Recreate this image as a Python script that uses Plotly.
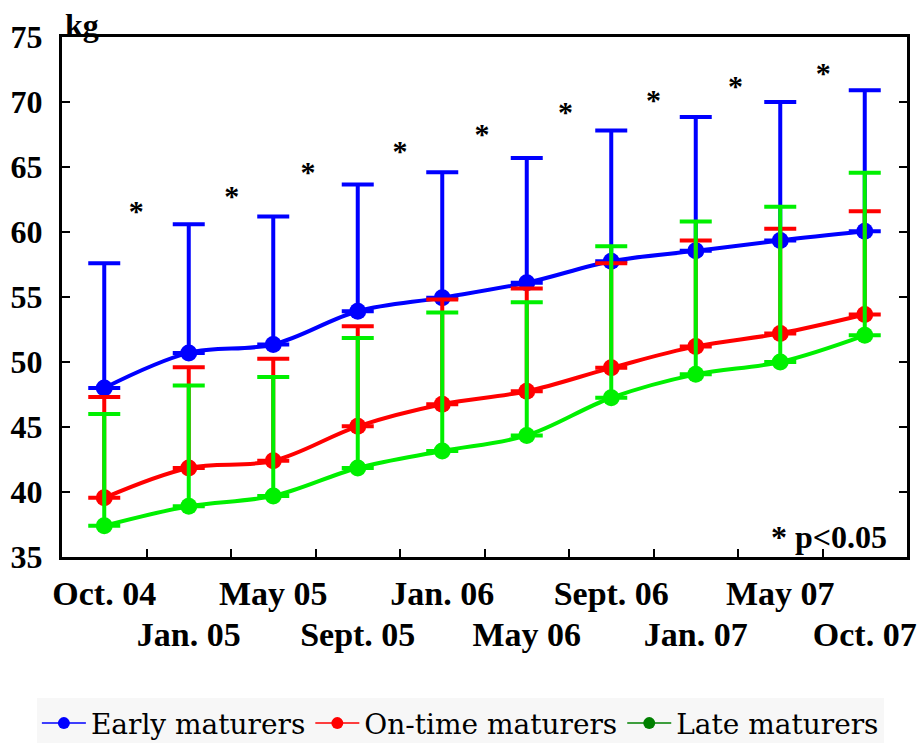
import numpy as np
import plotly.graph_objects as go

# Measurement dates (one per survey wave)
dates = ["Oct. 04", "Jan. 05", "May 05", "Sept. 05", "Jan. 06",
         "May 06", "Sept. 06", "Jan. 07", "May 07", "Oct. 07"]

# Mean body weight (kg) and standard deviation per maturation group
early_mean = [48.0, 50.7, 51.35, 53.9, 54.95, 56.1, 57.75, 58.55, 59.35, 60.05]
early_sd = [9.6, 9.9, 9.85, 9.75, 9.65, 9.6, 10.05, 10.3, 10.65, 10.85]

ontime_mean = [39.55, 41.85, 42.4, 45.05, 46.75, 47.75, 49.55, 51.2, 52.2, 53.65]
ontime_sd = [7.75, 7.75, 7.85, 7.7, 8.05, 7.9, 8.05, 8.15, 8.05, 7.95]

late_mean = [37.4, 38.9, 39.7, 41.85, 43.15, 44.35, 47.25, 49.05, 50.0, 52.05]
late_sd = [8.6, 9.3, 9.15, 10.0, 10.65, 10.25, 11.65, 11.75, 11.95, 12.5]

# Significance asterisks between consecutive waves (position on the wave axis, kg)
sig_x = [0.38, 1.51, 2.41, 3.5, 4.47, 5.46, 6.5, 7.47, 8.51]
sig_y = [61.45, 62.6, 64.45, 66.05, 67.35, 69.05, 69.95, 71.05, 72.05]

groups = [
    ("Early maturers", early_mean, early_sd, "#0000ff", "#0000ff"),
    ("On-time maturers", ontime_mean, ontime_sd, "#ff0000", "#ff0000"),
    ("Late maturers", late_mean, late_sd, "#00f000", "#008000"),
]

x = np.arange(len(dates))
serif = "Liberation Serif"

fig = go.Figure()

for name, mean, sd, color, _ in groups:
    fig.add_trace(go.Scatter(
        x=x, y=mean, mode="lines+markers", name=name, showlegend=False,
        line=dict(color=color, width=4, shape="spline", smoothing=1.0),
        marker=dict(color=color, size=17),
        error_y=dict(type="data", array=sd, arrayminus=[0] * len(sd),
                     symmetric=False, color=color, thickness=4, width=16),
    ))

# Significance markers
fig.add_trace(go.Scatter(
    x=sig_x, y=sig_y, mode="text", text=["*"] * len(sig_y),
    textposition="middle center", showlegend=False,
    textfont=dict(family=serif, size=30, color="black", weight="bold"),
))

# Empty trace that carries the second row of date labels
fig.add_trace(go.Scatter(
    x=[None], y=[None], xaxis="x2", yaxis="y", mode="markers",
    showlegend=False, hoverinfo="skip",
))

# Legend entries
for name, _, _, _, legcolor in groups:
    fig.add_trace(go.Scatter(
        x=[None], y=[None], mode="lines+markers", name=name,
        line=dict(color=legcolor, width=1.5),
        marker=dict(color=legcolor, size=12),
    ))

tickfont = dict(family=serif, size=34, color="black", weight="bold")
xrange = [-0.5, len(dates) - 0.5]

# Bottom axis: frame, inner ticks between waves, first row of date labels
fig.update_layout(xaxis=dict(
    range=xrange, automargin=False,
    tickmode="array", tickvals=x[0::2], ticktext=dates[0::2], tickangle=0,
    ticks="", showgrid=False, zeroline=False,
    showline=True, linecolor="black", linewidth=3, mirror=True,
    tickfont=tickfont, ticklabelstandoff=4,
    minor=dict(tickmode="array", tickvals=x[:-1] + 0.5, ticks="inside",
               ticklen=8, tickwidth=2, tickcolor="black", showgrid=False),
))
# Second row of date labels
fig.update_layout(xaxis2=dict(
    overlaying="x", anchor="y", side="bottom",
    range=xrange, automargin=False,
    tickmode="array", tickvals=x[1::2], ticktext=dates[1::2], tickangle=0,
    ticks="", showgrid=False, zeroline=False, showline=False,
    tickfont=tickfont, ticklabelstandoff=54,
))
fig.update_yaxes(
    range=[35, 75], dtick=5, tick0=35, automargin=False,
    ticks="inside", ticklen=8, tickwidth=2, tickcolor="black",
    showgrid=False, zeroline=False,
    showline=True, linecolor="black", linewidth=3, mirror="ticks",
    tickfont=dict(family=serif, size=32, color="black", weight="bold"),
    ticklabelstandoff=10,
)

fig.add_annotation(
    text="kg", xref="paper", yref="paper", x=0, y=1,
    xanchor="left", yanchor="bottom", xshift=1, yshift=-8, showarrow=False,
    font=dict(family=serif, size=32, color="black", weight="bold"),
)
fig.add_annotation(
    text="* p<0.05", xref="paper", yref="paper", x=1, y=0,
    xanchor="right", yanchor="bottom", xshift=-18, yshift=0, showarrow=False,
    font=dict(family=serif, size=32, color="black", weight="bold"),
)

fig.update_layout(
    width=922, height=743,
    margin=dict(l=62, r=15, t=37, b=186, autoexpand=False),
    paper_bgcolor="white", plot_bgcolor="white",
    legend=dict(
        orientation="h", xref="container", yref="container",
        x=0.04, y=0.06, xanchor="left", yanchor="top",
        itemwidth=44, bgcolor="#f7f7f7",
        font=dict(family="DejaVu Serif", size=28, color="black"),
    ),
)

fig.write_html("out.html")
